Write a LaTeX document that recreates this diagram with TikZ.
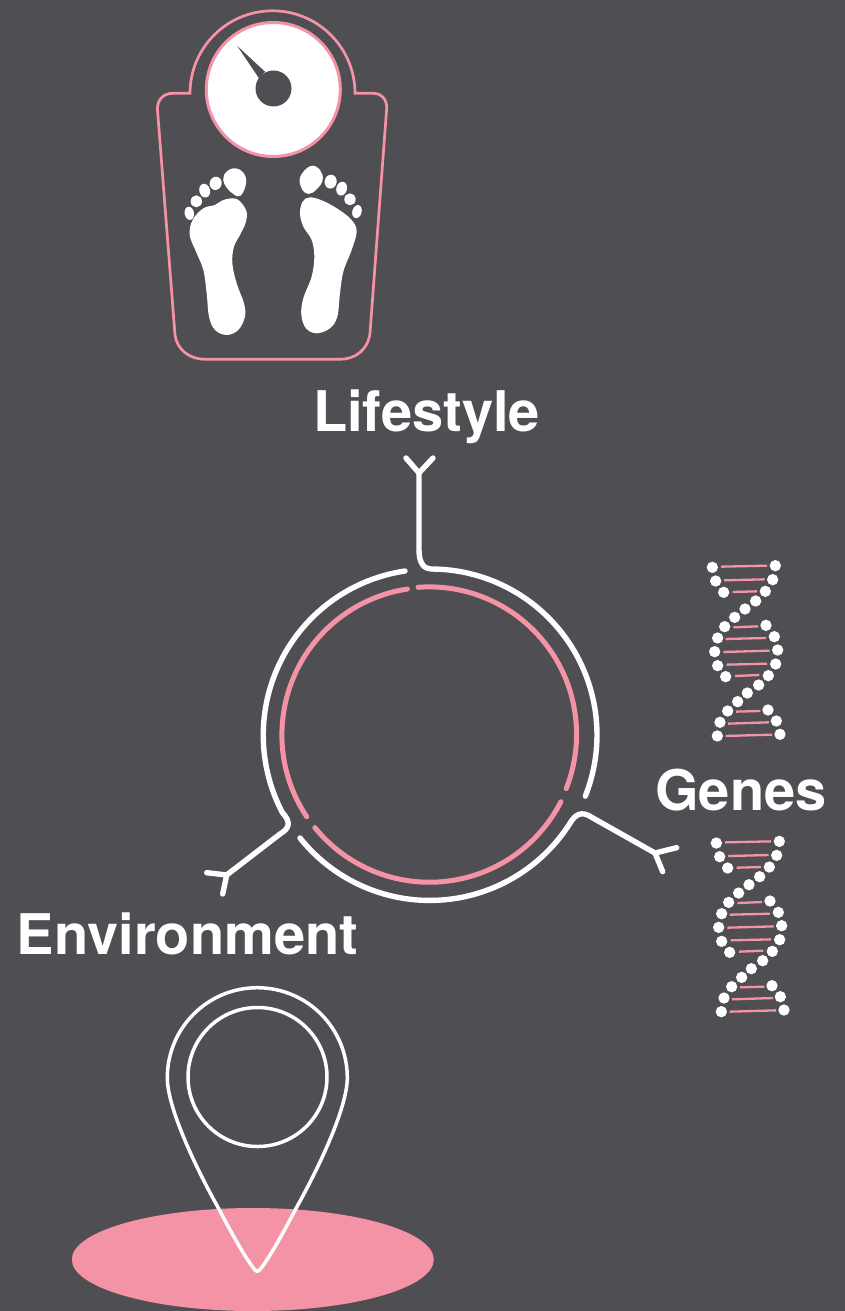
\documentclass[tikz,border=0pt]{standalone}
\usepackage{fontspec}
\setmainfont{TeX Gyre Heros}
\definecolor{slatebg}{HTML}{4F4E53}
\definecolor{rosepink}{HTML}{F593A6}
\tikzset{
  ringline/.style={white,line width=5.4pt,line cap=round,line join=round},
  pinkring/.style={rosepink,line width=5pt,line cap=round},
  pinline/.style={white,line width=3.5pt,line join=round},
  label/.style={font=\bfseries\fontsize{56}{56}\selectfont,white,inner sep=0pt,anchor=base},
}
% one helix, in 3x crop units
\newcommand{\helixdots}{
  \foreach \px/\py in {67/52,256/47,77/93,248/89,101/127,226/124,197/153,165/177,134/202,
    104/230,228/226,83/264,253/260,74/305,263/300,83/347,257/342,107/380,235/377,206/405,
    172/429,143/455,113/483,234/480,90/517,259/513,82/558,270/553}
    \fill[white] (\px,\py) circle (17);
  \foreach \ax/\ay/\bx/\by in {93/50/231/47,102/91/224/88,128/126/201/124,130/232/204/229,
    107/267/228/264,100/306/239/302,110/344/231/341,135/378/208/375,138/485/211/483,
    114/521/237/517,107/558/246/554}
    \draw[rosepink,line width=2.3pt] (\ax,\ay) -- (\bx,\by);
}
\begin{document}
\begin{tikzpicture}[x=1pt,y=-1pt]
  \useasboundingbox[fill=slatebg] (0,0) rectangle (845,1311);
  % bathroom scale
  \draw[rosepink,line width=2.7pt] (190,93.3) -- (173,93.3) .. controls (163,93.3) and (157,100) .. (157.5,110)
    -- (175,335) .. controls (177,350) and (190,359.3) .. (205,359.3) -- (340,359.3)
    .. controls (355,359.3) and (368,350) .. (370,333) -- (386.7,108)
    .. controls (387,100) and (382,93.3) .. (373,93.3) -- (355,93.3)
    arc[start angle=0,end angle=-180,radius=82.5] -- cycle;
  \fill[white,draw=rosepink,line width=3pt] (273.3,89.5) circle (67);
  \fill[slatebg] (237.3,46) -- (265,71.7) -- (259,78.3) -- cycle;
  \fill[slatebg] (273.5,88.5) circle (18);
  \begin{scope}[shift={(140,0)},scale=0.3333]
    \fill[white] plot[smooth cycle,tension=0.6] coordinates
      {(250,600) (290,597) (318,630) (318,665) (300,705) (282,740) (277,790) (290,850)
       (312,910) (315,950) (295,990) (260,1005) (225,990) (207,950) (200,880) (190,810)
       (168,755) (149,705) (158,660) (190,625) (225,615)};
    \fill[white] plot[smooth cycle,tension=0.6] coordinates
      {(510,592) (550,603) (595,628) (635,660) (650,695) (635,750) (610,815) (600,880)
       (592,950) (570,985) (530,1000) (498,985) (484,945) (490,895) (515,830) (523,770)
       (515,720) (490,680) (480,640) (488,605)};
    \fill[white] plot[smooth cycle,tension=0.7] coordinates
      {(280,505) (310,518) (318,550) (302,587) (280,582) (255,555) (252,525)};
    \fill[white] plot[smooth cycle,tension=0.7] coordinates
      {(512,498) (540,510) (548,540) (530,568) (505,582) (485,565) (481,530)};
    \foreach \tx/\ty/\trx/\try/\tr in {227/550/18/20/-15,194/572/16/21/15,169/604/17/18/0,148/640/14/20/10,
      572/545/18/21/-10,605/566/16/21/-15,630/598/17/18/0,651/635/14/20/-15}
      \fill[white,rotate around={\tr:(\tx,\ty)}] (\tx,\ty) ellipse[x radius=\trx,y radius=\try];
  \end{scope}
  % labels
  \node[label] (lifestyle) at (426.5,431) {Lifestyle};
  \node[label] (genes) at (741,810) {Genes};
  \node[label] (environment) at (187.5,954) {Environment};
  % rings
  \draw[pinkring] (418,587.3) arc[start angle=-94.3,end angle=21.6,radius=147.5];
  \draw[pinkring] (560.9,801.7) arc[start angle=27,end angle=141,radius=147.5];
  \draw[pinkring] (306.7,816.7) arc[start angle=146.3,end angle=261.4,radius=147.5];
  \draw[ringline] (419,473) -- (419,550) .. controls (419,563) and (424,569) .. (431,569)
    arc[start angle=-90,end angle=21.6,radius=166];
  \draw[ringline] (406,458) -- (419,473) -- (433,458);
  \draw[ringline] (300,838) arc[start angle=141.4,end angle=32.3,radius=166]
    .. controls (575,815) and (581,810) .. (592,817.5) -- (655,853);
  \draw[ringline] (676.7,847.7) -- (655,853) -- (662.7,871.7);
  \draw[ringline] (405,571) arc[start angle=-98.4,end angle=-207.8,radius=166]
    .. controls (291,822) and (290,828) .. (280,834) -- (226.7,875);
  \draw[ringline] (206.7,872.7) -- (226.7,875) -- (222.7,894);
  % helices
  \begin{scope}[shift={(690,550)},scale=0.3333]
    \helixdots
  \end{scope}
  \begin{scope}[shift={(694,825.7)},scale=0.3333]
    \helixdots
  \end{scope}
  % location pin
  \fill[rosepink] (252.8,1259.5) ellipse[x radius=181,y radius=51.5];
  \draw[pinline] (167.3,1077.7) arc[start angle=180,end angle=360,radius=90]
    .. controls (347.3,1110) and (314.6,1175) .. (297.9,1205) .. controls (284.6,1230) and (269.6,1258) .. (259.6,1270)
    .. controls (258,1272) and (256.6,1272) .. (255,1270)
    .. controls (245,1258) and (230,1230) .. (216.7,1205) .. controls (200,1175) and (167.3,1110) .. (167.3,1077.7) -- cycle;
  \draw[pinline] (257.5,1077) circle (69.5);
\end{tikzpicture}
\end{document}
